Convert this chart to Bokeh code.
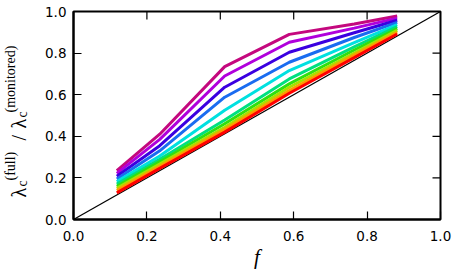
import math
from bokeh.plotting import figure
from bokeh.models import Range1d, FixedTicker, Label
from bokeh.layouts import row
from bokeh.embed import file_html
from bokeh.resources import INLINE

# ---- data ----
f_vals = [0.118, 0.235, 0.412, 0.588, 0.765, 0.882]
series = [
    [0.235, 0.410, 0.735, 0.890, 0.940, 0.978],   # magenta
    [0.222, 0.385, 0.690, 0.852, 0.920, 0.968],   # purple
    [0.208, 0.355, 0.636, 0.804, 0.898, 0.958],   # violet-blue
    [0.195, 0.330, 0.588, 0.756, 0.875, 0.948],   # azure
    [0.182, 0.305, 0.525, 0.716, 0.850, 0.937],   # cyan
    [0.170, 0.290, 0.478, 0.676, 0.830, 0.927],   # spring green
    [0.160, 0.278, 0.460, 0.652, 0.815, 0.918],   # green
    [0.150, 0.266, 0.443, 0.636, 0.800, 0.909],   # yellow-green
    [0.140, 0.256, 0.432, 0.620, 0.790, 0.900],   # orange
    [0.128, 0.246, 0.420, 0.607, 0.778, 0.892],   # red
]
diag_x = [0.0, 1.0]
diag_y = [0.0, 1.0]
ticks = [0.0, 0.2, 0.4, 0.6, 0.8, 1.0]
tick_labels = ["0.0", "0.2", "0.4", "0.6", "0.8", "1.0"]

colors = ["#c4087e", "#b000dc", "#3a00e0", "#1a6cf0", "#00e0e0",
          "#00e080", "#30e010", "#a8e000", "#ff9a00", "#ff0000"]

LAB_W = 30
H = 271

p = figure(width=458 - LAB_W, height=H, output_backend="svg", toolbar_location=None,
           x_range=Range1d(0, 1), y_range=Range1d(0, 1),
           min_border_left=73 - LAB_W, min_border_right=18, min_border_top=11,
           min_border_bottom=52)
p.grid.visible = False
p.outline_line_color = "black"
p.outline_line_width = 2
p.background_fill_color = "white"
p.border_fill_color = "white"

p.line(diag_x, diag_y, line_color="black", line_width=1.2)
for ys, c in zip(series, colors):
    p.line(f_vals, ys, line_color=c, line_width=3)

# inward ticks on the top and right edges (clipped to the frame)
p.scatter(ticks, [1.0] * len(ticks), marker="dash", size=16, angle=math.pi / 2,
          line_color="black", line_width=1.2)
p.scatter([1.0] * len(ticks), ticks, marker="dash", size=16, angle=0,
          line_color="black", line_width=1.2)

label_overrides = {t: l for t, l in zip(ticks, tick_labels)}
xax = p.xaxis[0]
yax = p.yaxis[0]
for ax in (xax, yax):
    ax.ticker = FixedTicker(ticks=ticks)
    ax.major_label_overrides = label_overrides
    ax.minor_tick_line_color = None
    ax.major_tick_in = 8
    ax.major_tick_out = 0
    ax.major_tick_line_width = 1.2
    ax.major_tick_line_color = "black"
    ax.axis_line_color = "black"
    ax.axis_line_width = 2
    ax.major_label_text_font = "DejaVu Sans"
    ax.major_label_text_font_size = "13.5px"
    ax.major_label_text_color = "black"
xax.major_label_standoff = 11
yax.major_label_standoff = 7

xax.axis_label = "f"
xax.axis_label_text_font = "Liberation Serif"
xax.axis_label_text_font_style = "italic"
xax.axis_label_text_font_size = "21px"
xax.axis_label_standoff = 1
xax.axis_label_text_color = "black"

# narrow companion canvas holding the y-axis label λ_c^(full) / λ_c^(monitored)
lab = figure(width=LAB_W, height=H, output_backend="svg", toolbar_location=None,
             x_range=Range1d(0, 1), y_range=Range1d(0, 1),
             x_axis_location=None, y_axis_location=None,
             min_border=0, min_border_left=0, min_border_right=0,
             min_border_top=0, min_border_bottom=0)
lab.grid.visible = False
lab.outline_line_color = None
lab.background_fill_color = "white"
lab.border_fill_color = "white"

serif = "Liberation Serif"
main_sz = "20px"
sub_sz = "14px"
# (text, baseline x in px from left, start y in px above the plot frame's bottom, size)
pieces = [
    ("λ", 18, 22, main_sz),
    ("c", 22, 33, sub_sz),
    ("(full)", 10, 39, sub_sz),
    ("/", 18, 79, main_sz),
    ("λ", 18, 91, main_sz),
    ("c", 22, 102, sub_sz),
    ("(monitored)", 10, 107, sub_sz),
]
for txt, sx, sy, sz in pieces:
    lab.add_layout(Label(x=sx, y=sy, x_units="screen", y_units="screen", text=txt,
                         angle=math.pi / 2, text_font=serif, text_font_size=sz,
                         text_align="left", text_baseline="alphabetic",
                         text_color="black"))

layout = row(lab, p, spacing=0)
open("out.html", "w").write(file_html(layout, INLINE))
